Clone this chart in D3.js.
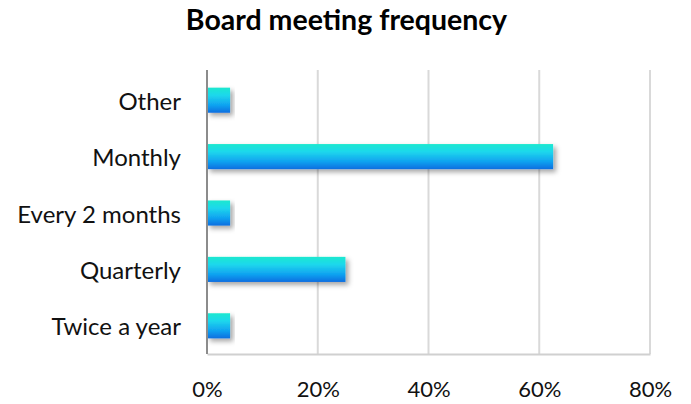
<!DOCTYPE html>
<html>
<head>
<meta charset="utf-8">
<script src="https://cdn.jsdelivr.net/npm/d3@7"></script>
<style>
  html, body { margin: 0; padding: 0; background: #fff; }
  svg { display: block; font-family: Lato, "Open Sans", sans-serif; }
</style>
</head>
<body>
<svg id="chart" width="691" height="404"></svg>
<script>
// Share of boards by how often they meet (24 responses)
const categories = ["Other", "Monthly", "Every 2 months", "Quarterly", "Twice a year"];
const shares = [1 / 24, 15 / 24, 1 / 24, 6 / 24, 1 / 24];
const tickValues = [0, 0.2, 0.4, 0.6, 0.8];

const svg = d3.select("#chart");
const margin = { left: 207, right: 41, top: 72, bottom: 50 };
const W = 691, H = 404;

const x = d3.scaleLinear().domain([0, 0.8]).range([margin.left, W - margin.right]);
const y = d3.scaleBand().domain(categories).range([margin.top, H - margin.bottom]).paddingInner(0.555).paddingOuter(0.2775);

const defs = svg.append("defs");
const grad = defs.append("linearGradient").attr("id", "barGrad")
  .attr("x1", 0).attr("y1", 0).attr("x2", 0).attr("y2", 1);
grad.append("stop").attr("offset", "0%").attr("stop-color", "#1ee8cf");
grad.append("stop").attr("offset", "30%").attr("stop-color", "#1fd8ec");
grad.append("stop").attr("offset", "70%").attr("stop-color", "#0fa2f0");
grad.append("stop").attr("offset", "100%").attr("stop-color", "#0a6ee0");

const shadow = defs.append("filter").attr("id", "barShadow")
  .attr("x", "-10%").attr("y", "-30%").attr("width", "130%").attr("height", "180%");
shadow.append("feDropShadow").attr("dx", 3).attr("dy", 3).attr("stdDeviation", 2.5)
  .attr("flood-color", "#000").attr("flood-opacity", 0.35);

// Title
svg.append("text")
  .attr("x", 346.5).attr("y", 30)
  .attr("text-anchor", "middle")
  .attr("font-size", 28.5).attr("font-weight", "bold").attr("fill", "#000")
  .text("Board meeting frequency");

// Vertical gridlines
svg.append("g").selectAll("line")
  .data(tickValues.slice(1))
  .join("line")
  .attr("x1", d => x(d)).attr("x2", d => x(d))
  .attr("y1", margin.top - 2).attr("y2", H - margin.bottom)
  .attr("stroke", "#d9d9d9").attr("stroke-width", 2);

// Bottom axis labels
const xAxis = d3.axisBottom(x).tickValues(tickValues).tickFormat(d3.format(".0%")).tickSize(0).tickPadding(27);
const gx = svg.append("g").attr("transform", `translate(0,${H - margin.bottom})`).call(xAxis);
gx.select(".domain").attr("stroke", "#d0d0d0").attr("stroke-width", 2);
gx.selectAll("text").attr("font-size", 22).attr("fill", "#111").attr("font-family", "Lato, 'Open Sans', sans-serif");

// Bars
svg.append("g").selectAll("rect")
  .data(categories.map((c, i) => ({ c, v: shares[i] })))
  .join("rect")
  .attr("x", x(0))
  .attr("y", d => y(d.c))
  .attr("width", d => x(d.v) - x(0))
  .attr("height", y.bandwidth())
  .attr("fill", "url(#barGrad)")
  .attr("filter", "url(#barShadow)");

// Left axis
const yAxis = d3.axisLeft(y).tickSize(0).tickPadding(26);
const gy = svg.append("g").attr("transform", `translate(${margin.left},0)`).call(yAxis);
gy.select(".domain").attr("stroke", "#8c8c8c").attr("stroke-width", 2)
  .attr("d", `M0,${margin.top - 2}V${H - margin.bottom}`);
gy.selectAll("text").attr("font-size", 24).attr("dy", "0.4em").attr("fill", "#111")
  .attr("font-family", "Lato, 'Open Sans', sans-serif");
</script>
</body>
</html>
